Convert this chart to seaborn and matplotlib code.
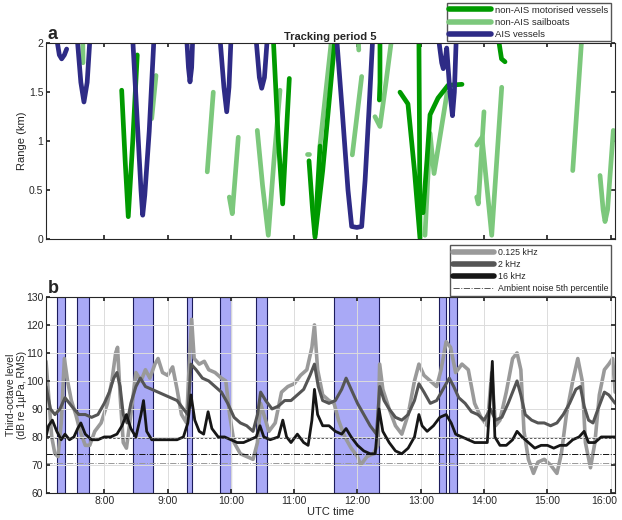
import numpy as np
import pandas as pd
import matplotlib
matplotlib.use("Agg")
import matplotlib.pyplot as plt
import matplotlib.transforms as mtransforms
from matplotlib.lines import Line2D
import seaborn as sns

# ---- panel a: tracked vessels, (time in UTC hours, range in km) ----
motor_tracks = [
    ([8.275, 8.33, 8.379, 8.45, 8.521], [1.52, 0.8, 0.23, 1.0, 1.88]),
    ([10.670, 10.75, 10.818, 10.87, 10.923], [2.05, 1.0, 0.36, 1.0, 1.64]),
    ([11.234, 11.29, 11.329, 11.45, 11.645], [0.80, 0.3, 0.02, 0.7, 2.05]),
    ([11.408, 11.329], [0.95, 0.05]),
    ([12.355, 12.355, 12.345], [2.05, 1.6, 1.42]),
    ([12.671, 12.797, 12.90, 12.987, 12.98, 12.97], [1.50, 1.38, 0.7, 0.01, 1.0, 2.05]),
    ([13.035, 13.098, 13.146, 13.272, 13.43, 13.651], [0.27, 0.81, 1.27, 1.44, 1.57, 1.58]),
    ([14.225, 14.275, 14.33], [2.05, 1.84, 1.81]),
]
sail_tracks = [
    ([7.659, 7.665], [2.05, 1.80]),
    ([8.749, 8.817], [1.23, 1.67]),
    ([9.627, 9.722], [0.687, 1.50]),
    ([9.975, 10.022, 10.117], [0.43, 0.26, 1.04]),
    ([10.417, 10.50, 10.591, 10.68, 10.776], [1.11, 0.55, 0.04, 0.8, 1.52]),
    ([11.197, 11.24], [0.87, 0.87]),
    ([11.408, 11.592], [0.96, 2.05]),
    ([11.918, 12.066], [0.86, 1.66]),
    ([12.013, 12.02], [2.05, 1.93]),
    ([12.276, 12.355, 12.45, 12.54], [1.25, 1.15, 1.6, 2.05]),
    ([13.066, 13.146, 13.209, 13.414], [0.04, 1.08, 0.67, 1.49]),
    ([13.883, 13.908, 13.998], [0.43, 0.36, 1.30]),
    ([13.883, 13.967, 14.12, 14.278], [0.96, 1.04, 0.04, 1.55]),
    ([15.40, 15.542], [0.70, 2.05]),
    ([15.831, 15.88, 15.91, 15.95, 16.041], [0.65, 0.3, 0.18, 0.3, 1.11]),
]
ais_tracks = [
    ([7.248, 7.29, 7.327, 7.37, 7.406], [2.05, 1.88, 1.84, 1.88, 1.94]),
    ([7.573, 7.63, 7.679, 7.73, 7.774], [2.05, 1.6, 1.40, 1.6, 2.05]),
    ([8.449, 8.53, 8.58, 8.607, 8.64, 8.71, 8.785], [2.05, 1.1, 0.5, 0.245, 0.45, 1.1, 2.05]),
    ([9.302, 9.33, 9.354, 9.38, 9.397], [2.05, 1.75, 1.605, 1.75, 2.05]),
    ([9.828, 9.89, 9.934, 9.97, 10.002], [2.05, 1.55, 1.30, 1.55, 2.05]),
    ([10.397, 10.45, 10.487, 10.53, 10.575], [2.05, 1.65, 1.54, 1.65, 2.05]),
    ([11.671, 11.76, 11.85, 11.908, 11.99, 12.066, 12.12, 12.18, 12.24],
     [2.05, 1.3, 0.5, 0.13, 0.12, 0.13, 0.6, 1.3, 2.05]),
    ([13.28, 13.33, 13.355, 13.38, 13.409, 13.46, 13.50, 13.53, 13.56],
     [2.05, 1.8, 1.74, 1.8, 1.95, 1.5, 1.26, 1.5, 2.05]),
]

# ---- panel b: AIS vessel periods (start, end) ----
ais_spans = [(7.26, 7.38), (7.574, 7.763), (8.458, 8.774), (9.311, 9.39),
             (9.833, 10.0), (10.397, 10.575), (11.634, 12.344),
             (13.288, 13.398), (13.446, 13.577)]

# third-octave levels (dB re 1uPa)
t_lf = [7.08, 7.12, 7.17, 7.22, 7.27, 7.32, 7.37, 7.42, 7.48, 7.55, 7.62, 7.70, 7.77, 7.85,
        7.95, 8.05, 8.12, 8.18, 8.21, 8.25, 8.30, 8.35, 8.42, 8.50, 8.58, 8.65, 8.72, 8.80,
        8.85, 8.92, 9.00, 9.08, 9.15, 9.22, 9.30, 9.35, 9.38, 9.42, 9.50, 9.58, 9.65, 9.75,
        9.85, 9.92, 9.98, 10.05, 10.15, 10.25, 10.35, 10.42, 10.47, 10.52, 10.60, 10.70,
        10.80, 10.90, 11.00, 11.10, 11.20, 11.28, 11.32, 11.37, 11.45, 11.55, 11.63, 11.70,
        11.80, 11.90, 12.00, 12.05, 12.15, 12.25, 12.32, 12.35, 12.40, 12.50, 12.60, 12.70,
        12.80, 12.90, 12.97, 13.05, 13.15, 13.25, 13.32, 13.40, 13.47, 13.55, 13.65, 13.75,
        13.85, 13.95, 14.05, 14.12, 14.18, 14.25, 14.35, 14.45, 14.52, 14.58, 14.63, 14.70,
        14.78, 14.85, 14.95, 15.05, 15.15, 15.22, 15.30, 15.40, 15.48, 15.55, 15.60, 15.68,
        15.75, 15.82, 15.90, 15.97, 16.03, 16.07]
db_lf = [107, 95, 80, 74, 73, 85, 108, 100, 93, 88, 82, 77, 77, 82,
         85, 92, 100, 110, 112, 95, 78, 76, 88, 103, 100, 104, 101, 106,
         108, 103, 102, 105, 97, 88, 85, 110, 122, 108, 106, 107, 104, 103,
         101, 100, 88, 78, 74, 73, 72, 78, 92, 88, 82, 85,
         96, 98, 99, 102, 104, 112, 120, 104, 95, 93, 92, 86,
         80, 76, 73, 70, 73, 74, 77, 106, 97, 90, 84, 81,
         88, 100, 106, 102, 100, 98, 104, 114, 112, 103, 106, 104,
         92, 87, 84, 103, 84, 86, 96, 108, 110, 104, 82, 72,
         67, 71, 72, 70, 67, 74, 88, 100, 108, 100, 78, 69,
         78, 95, 104, 106, 108, 96]

t_mf = [7.08, 7.15, 7.22, 7.30, 7.38, 7.45, 7.52, 7.60, 7.70, 7.80, 7.90, 8.00, 8.08, 8.15,
        8.20, 8.25, 8.30, 8.36, 8.42, 8.50, 8.57, 8.65, 8.75, 8.85, 8.95, 9.05, 9.15, 9.25,
        9.32, 9.37, 9.45, 9.55, 9.65, 9.75, 9.85, 9.95, 10.05, 10.15, 10.25, 10.35, 10.42,
        10.47, 10.55, 10.65, 10.75, 10.85, 10.95, 11.05, 11.15, 11.25, 11.32, 11.38, 11.45,
        11.55, 11.65, 11.75, 11.82, 11.90, 12.00, 12.10, 12.20, 12.30, 12.35, 12.42, 12.50,
        12.60, 12.70, 12.80, 12.90, 12.97, 13.05, 13.15, 13.25, 13.35, 13.45, 13.52, 13.60,
        13.70, 13.80, 13.90, 14.00, 14.10, 14.18, 14.28, 14.38, 14.45, 14.52, 14.58, 14.65,
        14.75, 14.85, 14.95, 15.05, 15.15, 15.25, 15.35, 15.45, 15.52, 15.58, 15.65, 15.72,
        15.80, 15.90, 15.97, 16.07]
db_mf = [98, 90, 88, 90, 94, 92, 90, 88, 88, 87, 88, 92, 96, 101,
         103, 98, 88, 85, 92, 98, 101, 98, 97, 96, 95, 94, 93, 90,
         88, 106, 104, 101, 100, 98, 96, 92, 87, 85, 84, 82, 88,
         96, 93, 90, 91, 93, 93, 95, 97, 102, 106, 98, 93,
         92, 93, 97, 101, 97, 92, 88, 84, 81, 98, 93, 90,
         87, 86, 88, 93, 99, 96, 92, 93, 97, 101, 98, 94,
         92, 89, 88, 86, 90, 86, 87, 92, 96, 100, 95, 88,
         86, 85, 85, 84, 85, 88, 92, 97, 98, 91, 86, 85,
         90, 96, 95, 92]

t_hf = [7.08, 7.12, 7.18, 7.25, 7.32, 7.38, 7.45, 7.52, 7.58, 7.63, 7.70, 7.80, 7.90, 8.00,
        8.10, 8.20, 8.28, 8.35, 8.42, 8.50, 8.58, 8.62, 8.67, 8.75, 8.85, 8.95, 9.05, 9.15,
        9.25, 9.32, 9.37, 9.43, 9.50, 9.57, 9.64, 9.70, 9.80, 9.90, 10.00, 10.10, 10.20,
        10.30, 10.40, 10.46, 10.52, 10.62, 10.75, 10.82, 10.88, 10.95, 11.05, 11.15, 11.22,
        11.28, 11.32, 11.37, 11.45, 11.55, 11.65, 11.75, 11.82, 11.90, 12.00, 12.10, 12.20,
        12.28, 12.34, 12.40, 12.50, 12.60, 12.70, 12.80, 12.90, 12.97, 13.02, 13.10, 13.20,
        13.30, 13.40, 13.48, 13.55, 13.65, 13.75, 13.85, 13.95, 14.05, 14.10, 14.13, 14.17,
        14.25, 14.35, 14.45, 14.52, 14.60, 14.70, 14.80, 14.90, 15.00, 15.10, 15.20, 15.30,
        15.40, 15.50, 15.58, 15.65, 15.75, 15.85, 15.95, 16.07]
db_hf = [80, 84, 86, 82, 79, 81, 79, 80, 83, 85, 81, 79, 79, 80,
         80, 81, 84, 88, 83, 80, 88, 93, 82, 79, 79, 79, 79, 79,
         80, 85, 95, 86, 82, 81, 89, 83, 80, 80, 79, 78, 78,
         79, 80, 84, 80, 79, 80, 86, 80, 78, 81, 78, 77,
         86, 97, 88, 84, 84, 82, 81, 83, 80, 77, 75, 74,
         74, 90, 82, 78, 75, 74, 76, 80, 88, 84, 82, 84,
         87, 88, 85, 81, 80, 79, 78, 78, 78, 95, 107, 80,
         77, 77, 79, 82, 80, 78, 76, 77, 77, 76, 77, 77,
         79, 80, 82, 78, 78, 80, 80, 80]

ambient_levels = [79.5, 73.8, 70.6]

hour_ticks = list(range(8, 17))
hour_labels = [f"{h}:00" for h in hour_ticks]

# colours
c_motor = "#009a00"
c_sail = "#7cc87c"
c_ais = "#2e2b86"
c_lf, c_mf, c_hf = "#9a9a9a", "#555555", "#161616"

sns.set_theme(style="white")
plt.rcParams["font.family"] = ["Liberation Sans", "DejaVu Sans"]
plt.rcParams["axes.edgecolor"] = "#262626"
plt.rcParams["axes.linewidth"] = 0.8


def tracks_df(tracks, kind):
    rows = []
    for i, (t, r) in enumerate(tracks):
        for k in range(len(t)):
            rows.append({"time": t[k], "range": r[k], "track": f"{kind}{i}", "kind": kind})
    return pd.DataFrame(rows)


fig = plt.figure(figsize=(6.22, 5.2), dpi=100)
ax1 = fig.add_axes([0.074, 0.540, 0.915, 0.377])
ax2 = fig.add_axes([0.074, 0.052, 0.915, 0.377])

xlim = (7.08, 16.07)

# ---- panel a ----
for tracks, kind, col in [(sail_tracks, "sail", c_sail), (motor_tracks, "motor", c_motor),
                          (ais_tracks, "ais", c_ais)]:
    d = tracks_df(tracks, kind)
    sns.lineplot(data=d, x="time", y="range", units="track", estimator=None, sort=False,
                 color=col, linewidth=3.4, ax=ax1, legend=False)

ax1.set_xlim(*xlim)
ax1.set_ylim(0, 2)
ax1.set_yticks([0, 0.5, 1, 1.5, 2])
ax1.set_yticklabels(["0", "0.5", "1", "1.5", "2"])
ax1.set_xticks(hour_ticks)
ax1.set_xticklabels([])
ax1.set_xlabel("")
ax1.set_ylabel("Range (km)", fontsize=8)
ax1.yaxis.set_label_coords(-0.033, 0.5)
ax1.set_title("Tracking period 5", fontsize=8, fontweight="bold", pad=2)
ax1.tick_params(direction="in", top=True, right=True, length=3, labelsize=7.5,
                colors="#262626", bottom=True, left=True, pad=2)

leg_a = [Line2D([], [], color=c_motor, lw=4), Line2D([], [], color=c_sail, lw=4),
         Line2D([], [], color=c_ais, lw=4)]
fig.legend(leg_a, ["non-AIS motorised vessels", "non-AIS sailboats", "AIS vessels"],
           loc="upper right", bbox_to_anchor=(0.99, 1.003), fontsize=6.8, frameon=True,
           fancybox=False, edgecolor="#555555", handlelength=4.4, handletextpad=0.5,
           borderpad=0.25, labelspacing=0.35, framealpha=1)

fig.text(0.077, 0.925, "a", fontsize=13, fontweight="bold")

# ---- panel b ----
for s, e in ais_spans:
    ax2.axvspan(s, e, facecolor="#a9a9f6", edgecolor="#1c1c5c", lw=0.8, zorder=0.2)

ax2.grid(True, color="#dcdcdc", lw=0.7, zorder=0.5)
ax2.set_axisbelow(False)

sns.lineplot(x=t_lf, y=db_lf, color=c_lf, linewidth=2.6, ax=ax2, zorder=2)
sns.lineplot(x=t_mf, y=db_mf, color=c_mf, linewidth=2.2, ax=ax2, zorder=3)
sns.lineplot(x=t_hf, y=db_hf, color=c_hf, linewidth=2.0, ax=ax2, zorder=4)

ax2.axhline(ambient_levels[0], color="#444444", ls=(0, (3, 2)), lw=0.6, zorder=5)
ax2.axhline(ambient_levels[1], color="#111111", ls="-.", lw=0.7, zorder=5)
ax2.axhline(ambient_levels[2], color="#9a9a9a", ls="-.", lw=0.7, zorder=5)

ax2.set_xlim(*xlim)
ax2.set_ylim(60, 130)
ax2.set_yticks(range(60, 131, 10))
ax2.set_xticks(hour_ticks)
ax2.set_xticklabels(hour_labels)
ax2.set_xlabel("UTC time", fontsize=8, labelpad=1)
ax2.set_ylabel("Third-octave level\n(dB re 1µPa, RMS)", fontsize=7.5, linespacing=1.1)
ax2.yaxis.set_label_coords(-0.033, 0.5)
ax2.tick_params(direction="in", top=True, right=True, length=3, labelsize=7.5,
                colors="#262626", bottom=True, left=True, pad=2)
for sp in ax2.spines.values():
    sp.set_zorder(6)

# keep the last hour label inside the figure
last = ax2.get_xticklabels()[-1]
last.set_transform(last.get_transform() +
                   mtransforms.ScaledTranslation(-5 / 72, 0, fig.dpi_scale_trans))

leg_b = [Line2D([], [], color=c_lf, lw=4), Line2D([], [], color=c_mf, lw=4),
         Line2D([], [], color=c_hf, lw=4),
         Line2D([], [], color="#555555", ls="-.", lw=0.7)]
fig.legend(leg_b, ["0.125 kHz", "2 kHz", "16 kHz", "Ambient noise 5th percentile"],
           loc="upper right", bbox_to_anchor=(0.99, 0.537), fontsize=6.3, frameon=True,
           fancybox=False, edgecolor="#555555", handlelength=4.7, handletextpad=0.5,
           borderpad=0.3, labelspacing=0.35, framealpha=1)

fig.text(0.077, 0.437, "b", fontsize=13, fontweight="bold")

fig.savefig("out.png", dpi=100, facecolor="white")
